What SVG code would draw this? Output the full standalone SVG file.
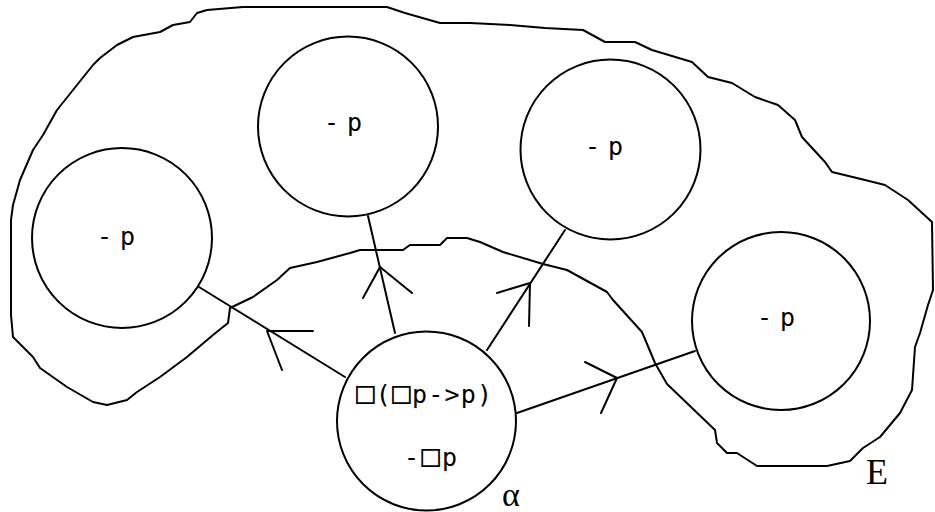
<svg xmlns="http://www.w3.org/2000/svg" width="935" height="512" viewBox="0 0 935 512">
<style>
.ln{fill:none;stroke:#000;stroke-width:2;stroke-linejoin:round;stroke-linecap:round}
.node{fill:none;stroke:#000;stroke-width:2}
.lbl{font-family:"DejaVu Sans Mono","Liberation Mono",monospace;font-size:25px;fill:#000}
.box{font-size:31px}
.ser{font-family:"Liberation Serif","DejaVu Serif",serif;fill:#000}
</style>
<rect width="935" height="512" fill="#fff"/>
<g id="region-E">
<path class="ln" d="M11,220 L13,205 L20,180 L33,150 L43,135 L57,110 L73,90 L93,65 L100,58 L117,45 L133,37 L160,32 L173,25 L190,22 L197,13 L207,10 L243,7 L387,7 L405,13 L440,23 L470,23 L510,25 L545,28 L583,30 L605,42 L635,42 L652,50 L692,62 L708,77 L732,83 L755,97 L778,105 L795,120 L802,137 L825,162 L832,172 L865,180 L885,185 L908,200 L932,222 L933,290 L928,305 L920,333 L915,347 L912,390 L900,413 L880,437 L863,448 L850,461 L827,466 L757,466 L737,453 L727,453 L717,443 L715,430 L667,384 L655,363 L642,332 L613,300 L607,292 L567,270 L543,264 L503,252 L480,242 L467,238 L447,238 L440,245 L410,245 L403,250 L360,250 L350,253 L317,262 L290,268 L277,280 L253,297 L230,308 L228,323 L213,335 L187,357 L160,377 L137,392 L127,400 L107,405 L93,402 L67,387 L40,368 L33,357 L13,337 L11,315 Z"/>
<text class="ser" x="866" y="484" font-size="36">E</text>
</g>
<g id="connectors">
<line class="ln" x1="345" y1="377" x2="199" y2="287"/>
<polyline class="ln" points="313,331 267,331 282,370"/>
<line class="ln" x1="395" y1="333" x2="368" y2="216"/>
<polyline class="ln" points="363,298 380,267 412,293"/>
<line class="ln" x1="487" y1="350" x2="565" y2="230"/>
<polyline class="ln" points="497,293 530,283 529,326"/>
<line class="ln" x1="517" y1="413" x2="695" y2="351"/>
<polyline class="ln" points="585,362 617,378 601,413"/>
</g>
<g id="world-1">
<circle class="node" cx="122" cy="238" r="90"/>
<text class="lbl" x="97" y="245" textLength="38" lengthAdjust="spacing">-p</text>
</g>
<g id="world-2">
<circle class="node" cx="348" cy="126.5" r="90"/>
<text class="lbl" x="324" y="131" textLength="38" lengthAdjust="spacing">-p</text>
</g>
<g id="world-3">
<circle class="node" cx="610.5" cy="149.5" r="90"/>
<text class="lbl" x="585" y="155" textLength="38" lengthAdjust="spacing">-p</text>
</g>
<g id="world-4">
<circle class="node" cx="781" cy="321" r="89"/>
<text class="lbl" x="757" y="326" textLength="38" lengthAdjust="spacing">-p</text>
</g>
<g id="world-alpha">
<circle class="node" cx="426.5" cy="421" r="89.5"/>
<text class="lbl" x="356" y="403" textLength="136" lengthAdjust="spacing"><tspan class="box">□</tspan>(<tspan class="box">□</tspan>p-&gt;p)</text>
<text class="lbl" x="404" y="466" textLength="53" lengthAdjust="spacing">-<tspan class="box">□</tspan>p</text>
<text class="ser" x="502" y="506" font-size="34">α</text>
</g>
</svg>
